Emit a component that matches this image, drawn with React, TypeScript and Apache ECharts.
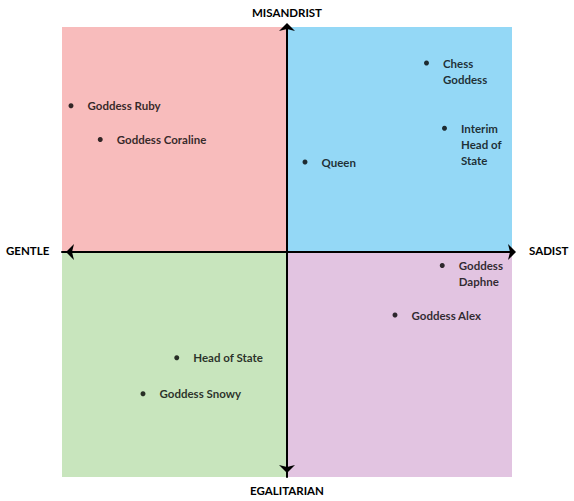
import React, { useEffect, useRef } from "react";
import * as echarts from "echarts";

const names = [
  "Goddess Ruby",
  "Goddess Coraline",
  "Chess\nGoddess",
  "Interim\nHead of\nState",
  "Queen",
  "Goddess\nDaphne",
  "Goddess Alex",
  "Head of State",
  "Goddess Snowy",
];
const xValues = [-9.6, -8.3, 6.2, 7.0, 0.8, 6.9, 4.8, -4.9, -6.4];
const yValues = [6.5, 5.0, 8.4, 5.5, 4.0, -0.6, -2.8, -4.7, -6.3];

const axisTitles = ["MISANDRIST", "EGALITARIAN", "GENTLE", "SADIST"];
const quadrantColors = ["#f8bcbc", "#94d8f6", "#c8e5bd", "#e2c4e1"];

const FONT = "Lato, 'Open Sans', sans-serif";
const LINE_H = 16;

const App: React.FC = () => {
  const chartRef = useRef<HTMLDivElement | null>(null);

  useEffect(() => {
    document.body.style.margin = "0";
    if (!chartRef.current) return;
    const myChart = echarts.init(chartRef.current, null, { renderer: "svg" });

    const points = names.map((n, i) => {
      const lines = n.split("\n").length;
      return {
        name: n,
        value: [xValues[i], yValues[i]],
        label: { offset: [0, ((lines - 1) * LINE_H) / 2] },
      };
    });

    const textStyle = {
      fontFamily: FONT,
      fontSize: 11.5,
      fontWeight: "bold",
      fill: "#000",
    };

    const axisLine = {
      onZero: true,
      lineStyle: { color: "#000", width: 2 },
      symbol: ["arrow", "arrow"],
      symbolSize: [12, 8],
      symbolOffset: [4, 4],
    };

    const option = {
      animation: false,
      grid: { left: 62, top: 27, width: 450, height: 450 },
      xAxis: {
        type: "value",
        min: -10,
        max: 10,
        splitLine: { show: false },
        axisTick: { show: false },
        axisLabel: { show: false },
        axisLine,
        z: 5,
      },
      yAxis: {
        type: "value",
        min: -10,
        max: 10,
        splitLine: { show: false },
        axisTick: { show: false },
        axisLabel: { show: false },
        axisLine,
        z: 5,
      },
      graphic: [
        { type: "text", left: "center", top: 6, style: { ...textStyle, text: axisTitles[0] } },
        { type: "text", left: "center", top: 484, style: { ...textStyle, text: axisTitles[1] } },
        { type: "text", left: 6, top: 244, style: { ...textStyle, text: axisTitles[2] } },
        { type: "text", left: 529, top: 244, style: { ...textStyle, text: axisTitles[3] } },
      ],
      series: [
        {
          type: "scatter",
          symbol: "circle",
          symbolSize: 5,
          itemStyle: { color: "#000" },
          label: {
            show: true,
            position: "right",
            distance: 14,
            formatter: "{b}",
            fontFamily: FONT,
            fontSize: 11.5,
            fontWeight: "bold",
            color: "#000",
            lineHeight: LINE_H,
            align: "left",
          },
          data: points,
          markArea: {
            silent: true,
            data: [
              [{ coord: [-10, 0], itemStyle: { color: quadrantColors[0] } }, { coord: [0, 10] }],
              [{ coord: [0, 0], itemStyle: { color: quadrantColors[1] } }, { coord: [10, 10] }],
              [{ coord: [-10, -10], itemStyle: { color: quadrantColors[2] } }, { coord: [0, 0] }],
              [{ coord: [0, -10], itemStyle: { color: quadrantColors[3] } }, { coord: [10, 0] }],
            ],
          },
        },
      ],
    };

    myChart.setOption(option);

    return () => {
      myChart.dispose();
    };
  }, []);

  return <div ref={chartRef} style={{ width: "574px", height: "501px" }} />;
};

export default App;
